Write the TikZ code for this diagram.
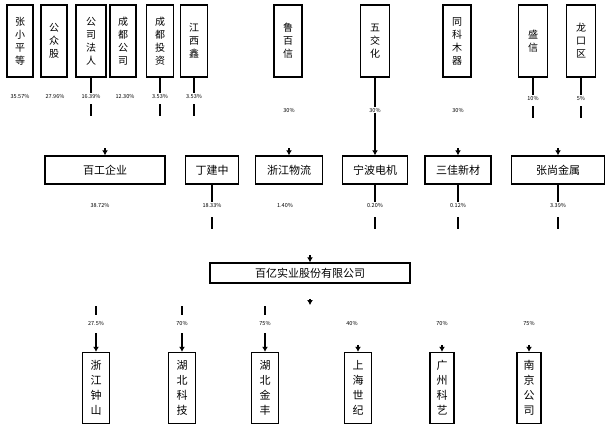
\documentclass[tikz,border=0pt]{standalone}
\usepackage{fontspec}
\setmainfont{Noto Sans CJK SC}
\usepackage{tikz}
\usetikzlibrary{arrows.meta}
\tikzset{
	holder/.style={draw, line width=1.5pt, inner sep=0pt, minimum width=27pt, minimum height=72pt, align=center, font=\fontsize{10}{13}\selectfont},
	firm/.style={draw, line width=1.5pt, inner sep=0pt, minimum height=28pt, font=\fontsize{11}{13}\selectfont},
	unit/.style={draw, line width=1.5pt, inner sep=0pt, minimum width=27pt, minimum height=71pt, align=center, font=\fontsize{11}{15}\selectfont},
	pct/.style={inner sep=1pt, font=\fontsize{5.5}{6}\selectfont},
	link/.style={line width=1.5pt},
	tip/.style={line width=1.5pt, -{Latex[length=5pt,width=6pt]}}
}
\begin{document}
\begin{tikzpicture}[x=1pt, y=-1pt]
\useasboundingbox (0,0) rectangle (608,437);

\node[holder, minimum width=26pt] (h1) at (20,41) {张\\小\\平\\等};
\node[holder, minimum width=26pt] (h2) at (54,41) {公\\众\\股};
\node[holder, minimum width=30pt] (h3) at (91,41) {公\\司\\法\\人};
\node[holder, minimum width=26pt] (h4) at (123,41) {成\\都\\公\\司};
\node[holder] (h5) at (160,41) {成\\都\\投\\资};
\node[holder] (h6) at (194,41) {江\\西\\鑫};
\node[holder, minimum width=28pt] (h7) at (288,41) {鲁\\百\\信};
\node[holder, minimum width=29pt] (h8) at (375,41) {五\\交\\化};
\node[holder, minimum width=28pt] (h9) at (457,41) {同\\科\\木\\器};
\node[holder, minimum width=29pt] (h10) at (533,41) {盛\\信};
\node[holder, minimum width=29pt] (h11) at (581,41) {龙\\口\\区};

\node[pct] (p1) at (20,96) {35.57\%};
\node[pct] (p2) at (55,96) {27.96\%};
\node[pct] (p3) at (91,96) {16.39\%};
\node[pct] (p4) at (125,96) {12.30\%};
\node[pct] (p5) at (160,96) {3.53\%};
\node[pct] (p6) at (194,96) {3.53\%};
\node[pct] (p7) at (289,110) {30\%};
\node[pct] (p8) at (375,110) {30\%};
\node[pct] (p9) at (458,110) {30\%};
\node[pct] (p10) at (533,98) {10\%};
\node[pct] (p11) at (581,98) {5\%};

\node[firm, minimum width=120pt] (m1) at (105,170) {百工企业};
\node[firm, minimum width=53pt] (m2) at (212,170) {丁建中};
\node[firm, minimum width=67pt] (m3) at (289,170) {浙江物流};
\node[firm, minimum width=65pt] (m4) at (375,170) {宁波电机};
\node[firm, minimum width=66pt] (m5) at (458,170) {三佳新材};
\node[firm, minimum width=93pt] (m6) at (558,170) {张尚金属};

\node[pct] (q1) at (100,205) {38.72\%};
\node[pct] (q2) at (212,205) {18.33\%};
\node[pct] (q3) at (285,205) {1.40\%};
\node[pct] (q4) at (375,205) {0.20\%};
\node[pct] (q5) at (458,205) {0.12\%};
\node[pct] (q6) at (558,205) {3.39\%};

\node[firm, minimum width=200pt, minimum height=20pt] (c) at (310,273) {百亿实业股份有限公司};

\node[pct] (r1) at (96,323) {27.5\%};
\node[pct] (r2) at (182,323) {70\%};
\node[pct] (r3) at (265,323) {75\%};
\node[pct] (r4) at (352,323) {40\%};
\node[pct] (r5) at (442,323) {70\%};
\node[pct] (r6) at (529,323) {75\%};

\node[unit] (b1) at (96,388) {浙\\江\\钟\\山};
\node[unit] (b2) at (182,388) {湖\\北\\科\\技};
\node[unit] (b3) at (265,388) {湖\\北\\金\\丰};
\node[unit] (b4) at (358,388) {上\\海\\世\\纪};
\node[unit, minimum width=24pt] (b5) at (442,388) {广\\州\\科\\艺};
\node[unit, minimum width=24pt] (b6) at (529,388) {南\\京\\公\\司};

\draw[link] (h3) -- (p3);
\draw[link] (h5) -- (p5);
\draw[link] (h6) -- (p6);
\draw[link] (h10) -- (p10);
\draw[link] (h11) -- (p11);
\draw[link, shorten <=5pt] (p3.south) -- ++(0,17);
\draw[link, shorten <=5pt] (p5.south) -- ++(0,17);
\draw[link, shorten <=5pt] (p6.south) -- ++(0,17);
\draw[link, shorten <=5pt] (p10.south) -- ++(0,17);
\draw[link, shorten <=5pt] (p11.south) -- ++(0,17);
\draw[tip] (h8) -- (p8) -- (m4);
\draw[tip] (m1.north) ++(0,-7) -- (m1.north);
\draw[tip] (m3.north) ++(0,-7) -- (m3.north);
\draw[tip] (m5.north) ++(0,-7) -- (m5.north);
\draw[tip] (m6.north) ++(0,-7) -- (m6.north);

\draw[link] (m2) -- (q2);
\draw[link] (m4) -- (q4);
\draw[link] (m5) -- (q5);
\draw[link] (m6) -- (q6);
\draw[link, shorten <=9pt] (q2.south) -- ++(0,21);
\draw[link, shorten <=9pt] (q4.south) -- ++(0,21);
\draw[link, shorten <=9pt] (q5.south) -- ++(0,21);
\draw[link, shorten <=9pt] (q6.south) -- ++(0,21);
\draw[tip] (c.north) ++(0,-7) -- (c.north);

\coordinate (cb) at (310,305);
\draw[tip, shorten <=15pt] (c.south) -- (cb);
\draw[link, shorten <=5pt] (r1.north) -- ++(0,-14);
\draw[link, shorten <=5pt] (r2.north) -- ++(0,-14);
\draw[link, shorten <=5pt] (r3.north) -- ++(0,-14);
\draw[tip, shorten <=7pt] (r1.south) -- (b1.north);
\draw[tip, shorten <=7pt] (r2.south) -- (b2.north);
\draw[tip, shorten <=7pt] (r3.south) -- (b3.north);
\draw[tip] (b4.north) ++(0,-7) -- (b4.north);
\draw[tip] (b5.north) ++(0,-7) -- (b5.north);
\draw[tip] (b6.north) ++(0,-7) -- (b6.north);
\end{tikzpicture}
\end{document}
